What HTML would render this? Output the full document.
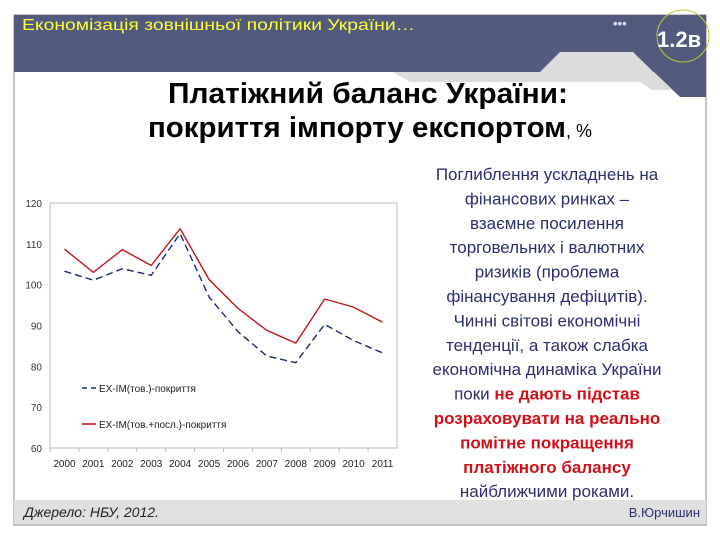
<!DOCTYPE html>
<html><head><meta charset="utf-8"><style>
html,body{margin:0;padding:0;background:#fff;}
svg{display:block;font-family:"Liberation Sans","DejaVu Sans",sans-serif;}
.narrow{font-family:"Liberation Sans Narrow","Liberation Sans",sans-serif;}
</style></head><body>
<svg id="root" width="720" height="540" viewBox="0 0 720 540">
  <rect x="14" y="15" width="692" height="510" fill="#fff" stroke="#888" stroke-width="1"/>
  <rect x="14" y="15" width="692" height="57" fill="#525a7d"/>
  <polygon points="633,52 706,52 706,97 680,97" fill="#525a7d"/>
  <polygon points="393,72 540,72 560,52 633,52 672,90 652,90 640,82 410,82" fill="#dcdcdc"/>
  <text class="narrow" x="22" y="30" font-size="16" fill="#ffff33" textLength="393" lengthAdjust="spacingAndGlyphs">Економізація зовнішньої політики України…</text>
  <text x="613" y="28" font-size="13" font-weight="bold" fill="#dde">•••</text>
  <circle cx="683" cy="36" r="26" fill="none" stroke="#b8c832" stroke-width="1"/>
  <text class="narrow" x="657" y="47" font-size="22" font-weight="bold" fill="#fff">1.2в</text>
  <text class="narrow" x="368" y="103" font-size="29" font-weight="bold" fill="#000" text-anchor="middle" textLength="400" lengthAdjust="spacingAndGlyphs">Платіжний баланс України:</text>
  <text class="narrow" x="370" y="137" font-size="29" fill="#000" text-anchor="middle"><tspan font-weight="bold" textLength="418" lengthAdjust="spacingAndGlyphs">покриття імпорту експортом</tspan><tspan font-size="18">, %</tspan></text>

  <rect x="14" y="500" width="692" height="24" fill="#e0e0e0"/>
  <text x="24" y="517" font-size="14" font-style="italic" fill="#222">Джерело: НБУ, 2012.</text>
  <text x="700" y="517" font-size="13" fill="#2a2f6e" text-anchor="end">В.Юрчишин</text>

  <g id="text-block" font-size="17" fill="#2a2f6e" text-anchor="middle"></g>
  <g id="chart"></g>
</svg>
<script>
const categories = ["2000","2001","2002","2003","2004","2005","2006","2007","2008","2009","2010","2011"];
const goodsCoverage = [103.3,101.1,103.9,102.3,112.5,97.0,88.5,82.5,80.9,90.3,86.3,83.3];
const goodsServicesCoverage = [108.7,103.0,108.6,104.7,113.7,101.3,94.2,88.8,85.7,96.5,94.5,90.8];
const yTicks = [60,70,80,90,100,110,120];
const seriesNames = ["EX-IM(тов.)-покриття","EX-IM(тов.+посл.)-покриття"];

const NS = "http://www.w3.org/2000/svg";
function mk(tag, attrs, parent){const e=document.createElementNS(NS,tag);for(const k in attrs)e.setAttribute(k,attrs[k]);parent.appendChild(e);return e;}

const lines = [
 ["Поглиблення ускладнень на",0],["фінансових ринках –",0],["взаємне посилення",0],["торговельних і валютних",0],
 ["ризиків (проблема",0],["фінансування дефіцитів).",0],["Чинні світові економічні",0],["тенденції, а також слабка",0],
 ["економічна динаміка України",0],["mixed",2],["розраховувати на реально",1],["помітне покращення",1],["платіжного балансу",1],["найближчими роками.",0]];
const tb = document.getElementById("text-block");
lines.forEach((l,i)=>{
  const t = mk("text",{x:547,y:180+i*24.4},tb);
  
  
  if(l[1]===2){
    const a=mk("tspan",{},t);a.textContent="поки ";
    const b=mk("tspan",{fill:"#d0101a","font-weight":"bold"},t);b.textContent="не дають підстав";
  } else {
    t.textContent=l[0];
    if(l[1]===1){t.setAttribute("fill","#d0101a");t.setAttribute("font-weight","bold");}
  }
});

const g = document.getElementById("chart");
const L=50,R=397,T=203,B=448;
const yMin=60,yMax=120;
const y = v => B-(v-yMin)/(yMax-yMin)*(B-T);
const bw=(R-L)/categories.length;
const x = i => L+bw*(i+0.5);
const frame=mk("rect",{x:L,y:T,width:R-L,height:B-T,fill:"none",stroke:"#bbb","stroke-width":1},g);


yTicks.forEach(v=>{
  const t=mk("text",{x:42,y:y(v)+4,"font-size":10,fill:"#333","text-anchor":"end"},g);
  
  
  t.textContent=v;
});
categories.forEach((c,i)=>{
  const t=mk("text",{x:x(i),y:467,"font-size":10,fill:"#222","text-anchor":"middle"},g);
  
  
  t.textContent=c;
  const tk=mk("line",{x1:L+bw*i,x2:L+bw*i,y1:B,y2:B+4,stroke:"#bbb"},g);
  
  
});
function path(vals){return vals.map((v,i)=>(i?"L":"M")+x(i).toFixed(1)+","+y(v).toFixed(1)).join(" ");}
const s1=mk("path",{d:path(goodsCoverage),fill:"none",stroke:"#1a2a6c","stroke-width":1.4,"stroke-dasharray":"7,4"},g);


const s2=mk("path",{d:path(goodsServicesCoverage),fill:"none",stroke:"#c0141c","stroke-width":1.4},g);


const l1=mk("line",{x1:82,x2:96,y1:388,y2:388,stroke:"#1a2a6c","stroke-width":1.4,"stroke-dasharray":"5,4"},g);


const lt1=mk("text",{x:99,y:392,"font-size":10,fill:"#222"},g);


lt1.textContent=seriesNames[0];
const l2=mk("line",{x1:82,x2:96,y1:424,y2:424,stroke:"#c0141c","stroke-width":1.6},g);


const lt2=mk("text",{x:99,y:428,"font-size":10,fill:"#222"},g);


lt2.textContent=seriesNames[1];
</script>
</body></html>
